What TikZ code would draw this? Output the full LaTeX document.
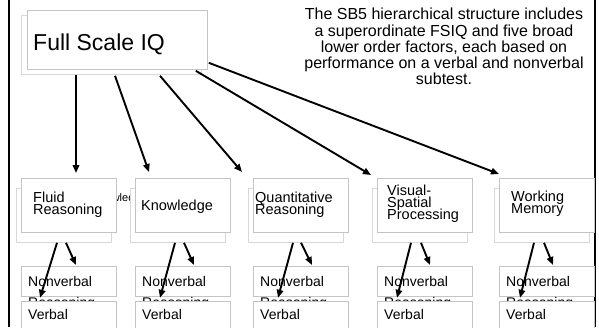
\documentclass[tikz,border=0pt]{standalone}
\usepackage{fontspec}
\setmainfont{Liberation Sans}
\usetikzlibrary{arrows.meta}
\definecolor{sbFrontLine}{HTML}{C4C4C4}
\definecolor{sbBackLine}{HTML}{D8D8D8}
\newcommand\sbtight{\lineskiplimit=-20pt\relax}
\tikzset{
  front box/.style={
    rectangle, draw=sbFrontLine, fill=white,
    line width=0.8pt, inner sep=0pt, anchor=north west,
    minimum width=94.5pt, minimum height=54pt,
  },
  back box/.style={
    front box, draw=sbBackLine,
  },
  score box/.style={
    front box, minimum height=30pt,
  },
  box text/.style={
    inner sep=0pt, anchor=north west, align=left,
    font=\fontsize{14.5}{12}\selectfont\sbtight,
  },
  score text/.style={
    box text, font=\fontsize{14}{21}\selectfont,
  },
  link arrow/.style={
    -{Triangle[length=8pt,width=6.5pt]}, line width=1.9pt,
  },
}

\begin{document}
\begin{tikzpicture}[x=1pt,y=-1pt]

\clip (0,0) rectangle (599,327);

% frame edges of the slide
\draw[line width=2.5pt] (9,0) -- (9,327);
\draw[line width=2.5pt] (595,0) -- (595,327);

% stray label left behind the boxes
\node[inner sep=0pt, anchor=base west, font=\fontsize{11}{13}\selectfont]
  (kn-ghost) at (92,201) {Knowledge};

% Full Scale IQ
\node[back box, minimum width=180pt, minimum height=59pt] (fs-back) at (21,15) {};
\node[front box, minimum width=180pt, minimum height=59pt] (fs) at (27,10) {};
\node[inner sep=0pt, anchor=base west, font=\fontsize{23}{26}\selectfont]
  (fs-text) at (33,50) {Full Scale IQ};

% note on the right
\node[inner sep=0pt, anchor=north, align=center,
      font=\fontsize{16}{16.3}\selectfont\sbtight]
  (note) at (444,8)
  {The SB5 hierarchical structure includes\\a superordinate FSIQ and five broad\\lower order factors, each based on\\performance on a verbal and nonverbal\\subtest.};

% five factors with their two subtests
\foreach \n/\x/\tx/\ty/\txt in {fr/21/33/192/{Fluid\\Reasoning},
                                kn/135/141/200/{Knowledge},
                                qr/253/255/192/{Quantitative\\Reasoning},
                                vs/377/387/185/{Visual-\\Spatial\\Processing},
                                wm/499/511/191/{Working\\Memory}} {
  \node[back box] (\n-back) at (\x-5,188) {};
  \node[front box] (\n) at (\x,178) {};
  \node[box text] (\n-text) at (\tx,\ty) {\txt};
  \node[score box] (\n-nv) at (\x,266) {};
  \node[score text] (\n-nvtext) at (\x+7,276) {Nonverbal\\Reasoning};
  \node[score box, minimum height=40pt] (\n-vb) at (\x,301) {};
  \node[score text] (\n-vbtext) at (\x+7,309) {Verbal};
}

% FSIQ to factors
\draw[link arrow] ([xshift=55]fs-back.south west) -- ([xshift=55,yshift=5]fr.north west);
\draw[link arrow] ([xshift=94,yshift=-1]fs-back.south west) -- ([xshift=14,yshift=6]kn.north west);
\draw[link arrow] ([xshift=139,yshift=-1]fs-back.south west) -- ([xshift=-11,yshift=6]qr.north west);
\draw[link arrow] ([xshift=-12,yshift=-1]fs.south east) -- ([xshift=-6,yshift=3]vs.north west);
\draw[link arrow] ([xshift=1,yshift=7]fs.south east) -- ([yshift=4]wm.north west);

% factors to subtests
\foreach \n/\as/\ae/\bs/\be in {fr/41/19/50/55, kn/45/25/54/59, qr/45/25/53/59,
                                vs/39/20/49/53, wm/40/21/50/54} {
  \draw[link arrow] ([xshift=\as]\n-back.south west) -- ([xshift=\ae,yshift=-1]\n-nv.south west);
  \draw[link arrow] ([xshift=\bs]\n-back.south west) -- ([xshift=\be,yshift=1]\n-nv.north west);
}

\end{tikzpicture}
\end{document}
